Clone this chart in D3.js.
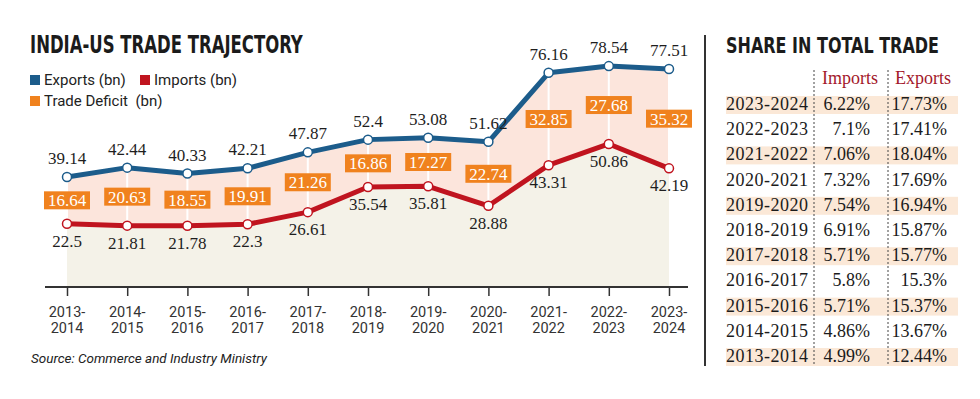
<!DOCTYPE html>
<html>
<head>
<meta charset="utf-8">
<script src="https://cdn.jsdelivr.net/npm/d3@7"></script>
<style>
  body { margin: 0; background: #fff; }
  .num { font-family: "Liberation Serif", serif; font-size: 17px; fill: #1e1e1e; }
  .tick-label { font-family: Roboto, sans-serif; font-size: 14.5px; fill: #333; }
  .legend { font-family: Roboto, sans-serif; font-size: 15px; fill: #222; }
  .title { font-family: "DejaVu Sans Condensed", "DejaVu Sans", sans-serif; font-weight: bold; fill: #1b1b1b; }
  .cell { font-family: "Liberation Serif", serif; font-size: 18px; fill: #1b1b1b; }
</style>
</head>
<body>
<div id="chart"></div>
<script>
// chart data
const years = ["2013-2014", "2014-2015", "2015-2016", "2016-2017", "2017-2018", "2018-2019",
  "2019-2020", "2020-2021", "2021-2022", "2022-2023", "2023-2024"];
const exportsBn = [39.14, 42.44, 40.33, 42.21, 47.87, 52.4, 53.08, 51.62, 76.16, 78.54, 77.51];
const importsBn = [22.5, 21.81, 21.78, 22.3, 26.61, 35.54, 35.81, 28.88, 43.31, 50.86, 42.19];
const deficitBn = [16.64, 20.63, 18.55, 19.91, 21.26, 16.86, 17.27, 22.74, 32.85, 27.68, 35.32];

// table data
const shareYears = ["2023-2024", "2022-2023", "2021-2022", "2020-2021", "2019-2020", "2018-2019",
  "2017-2018", "2016-2017", "2015-2016", "2014-2015", "2013-2014"];
const importShare = ["6.22%", "7.1%", "7.06%", "7.32%", "7.54%", "6.91%", "5.71%", "5.8%", "5.71%", "4.86%", "4.99%"];
const exportShare = ["17.73%", "17.41%", "18.04%", "17.69%", "16.94%", "15.87%", "15.77%", "15.3%", "15.37%", "13.67%", "12.44%"];

const blue = "#1c5c8b", red = "#c0141f", orange = "#f0821e";

const width = 980, height = 399;
const svg = d3.select("#chart").append("svg")
  .attr("width", width)
  .attr("height", height);

svg.append("rect").attr("width", width).attr("height", height).attr("fill", "#fff");

const x = d3.scalePoint().domain(years).range([67, 669]);
const y = d3.scaleLinear().domain([0, 80]).range([287, 62]);

const rows = years.map((yr, i) => ({ yr, ex: exportsBn[i], im: importsBn[i], def: deficitBn[i] }));

// background areas
svg.append("path")
  .datum(rows)
  .attr("fill", "#f4f2e8")
  .attr("d", d3.area().x(d => x(d.yr)).y0(y(0)).y1(d => y(d.im)));

svg.append("path")
  .datum(rows)
  .attr("fill", "#fce5dc")
  .attr("d", d3.area().x(d => x(d.yr)).y0(d => y(d.im)).y1(d => y(d.ex)));

// white guides between the two lines
svg.selectAll(".guide")
  .data(rows)
  .enter()
  .append("line")
  .attr("x1", d => x(d.yr)).attr("x2", d => x(d.yr))
  .attr("y1", d => y(d.ex)).attr("y2", d => y(d.im))
  .attr("stroke", "#fff")
  .attr("stroke-width", 2);

// x axis
const xAxis = svg.append("g")
  .attr("transform", `translate(0, ${y(0)})`)
  .call(d3.axisBottom(x).tickSize(9).tickFormat(""));
xAxis.select(".domain").remove();
xAxis.selectAll(".tick line").attr("stroke", "#333").attr("stroke-width", 1.5);
xAxis.append("line")
  .attr("x1", 45).attr("x2", 688)
  .attr("stroke", "#333").attr("stroke-width", 2);

const tl = svg.selectAll(".tick-label")
  .data(years)
  .enter()
  .append("text")
  .attr("class", "tick-label")
  .attr("text-anchor", "middle");
tl.append("tspan").attr("x", d => x(d)).attr("y", 317).text(d => d.split("-")[0] + "-");
tl.append("tspan").attr("x", d => x(d)).attr("y", 333).text(d => d.split("-")[1]);

// lines
const drawLine = (key, color) => {
  svg.append("path")
    .datum(rows)
    .attr("fill", "none")
    .attr("stroke", color)
    .attr("stroke-width", 5)
    .attr("stroke-linejoin", "round")
    .attr("d", d3.line().x(d => x(d.yr)).y(d => y(d[key])));
  svg.selectAll(".pt-" + key)
    .data(rows)
    .enter()
    .append("circle")
    .attr("cx", d => x(d.yr))
    .attr("cy", d => y(d[key]))
    .attr("r", 4.5)
    .attr("fill", "#fff")
    .attr("stroke", color)
    .attr("stroke-width", 1.5);
};
drawLine("ex", blue);
drawLine("im", red);

// value labels
svg.selectAll(".ex-label")
  .data(rows)
  .enter()
  .append("text")
  .attr("class", "num")
  .attr("text-anchor", "middle")
  .attr("x", d => x(d.yr))
  .attr("y", d => y(d.ex) - 13)
  .text(d => d.ex);

svg.selectAll(".im-label")
  .data(rows)
  .enter()
  .append("text")
  .attr("class", "num")
  .attr("text-anchor", "middle")
  .attr("x", d => x(d.yr))
  .attr("y", d => y(d.im) + 23)
  .text(d => d.im);

// deficit boxes
const box = svg.selectAll(".def")
  .data(rows)
  .enter()
  .append("g")
  .attr("transform", d => `translate(${x(d.yr)}, ${(y(d.ex) + y(d.im)) / 2})`);
box.append("rect")
  .attr("x", -23).attr("y", -9)
  .attr("width", 46).attr("height", 18)
  .attr("fill", orange);
box.append("text")
  .attr("class", "num")
  .attr("text-anchor", "middle")
  .attr("y", 6)
  .style("fill", "#fff")
  .text(d => d.def);

// condensed title: draw normally, then squeeze horizontally to the wanted width
function title(tx, ty, size, w, label) {
  const t = svg.append("text")
    .attr("class", "title")
    .attr("font-size", size)
    .text(label);
  const nat = t.node().getComputedTextLength();
  t.attr("transform", `translate(${tx}, ${ty}) scale(${w / nat}, 1)`);
}
title(30, 53, 25, 273, "INDIA-US TRADE TRAJECTORY");

const legendItems = [
  { label: "Exports (bn)", color: blue, lx: 30, ly: 85 },
  { label: "Imports (bn)", color: red, lx: 140, ly: 85 },
  { label: "Trade Deficit  (bn)", color: orange, lx: 30, ly: 106 }
];
legendItems.forEach(it => {
  svg.append("rect")
    .attr("x", it.lx).attr("y", it.ly - 10)
    .attr("width", 10).attr("height", 10)
    .attr("fill", it.color);
  svg.append("text")
    .attr("class", "legend")
    .attr("x", it.lx + 14).attr("y", it.ly)
    .attr("xml:space", "preserve")
    .text(it.label);
});

svg.append("text")
  .attr("x", 31).attr("y", 363)
  .attr("font-family", "Roboto, sans-serif")
  .attr("font-style", "italic")
  .attr("font-size", 13)
  .attr("fill", "#222")
  .attr("textLength", 236)
  .attr("lengthAdjust", "spacingAndGlyphs")
  .text("Source: Commerce and Industry Ministry");

// share table
svg.append("line")
  .attr("x1", 705).attr("x2", 705)
  .attr("y1", 35).attr("y2", 366)
  .attr("stroke", "#333").attr("stroke-width", 2);

title(726, 53, 22, 213, "SHARE IN TOTAL TRADE");

const rowY = d3.scalePoint().domain(shareYears).range([110, 362]);

svg.selectAll(".band")
  .data(shareYears.filter((d, i) => i % 2 === 0))
  .enter()
  .append("rect")
  .attr("x", 726).attr("width", 232)
  .attr("y", d => rowY(d) - 14).attr("height", 18)
  .attr("fill", "#fbe8d7");

[814, 888].forEach(cx => {
  svg.append("line")
    .attr("x1", cx).attr("x2", cx)
    .attr("y1", 70).attr("y2", 366)
    .attr("stroke", "#444")
    .attr("stroke-width", 1)
    .attr("stroke-dasharray", "2,2");
});

svg.append("text").attr("class", "cell").attr("x", 822).attr("y", 84)
  .style("fill", "#a3182a").text("Imports");
svg.append("text").attr("class", "cell").attr("x", 895).attr("y", 84)
  .style("fill", "#a3182a").text("Exports");

shareYears.forEach((yr, i) => {
  svg.append("text").attr("class", "cell")
    .attr("x", 726).attr("y", rowY(yr))
    .style("letter-spacing", "0.5px")
    .text(yr);
  svg.append("text").attr("class", "cell")
    .attr("x", 870).attr("y", rowY(yr))
    .attr("text-anchor", "end")
    .text(importShare[i]);
  svg.append("text").attr("class", "cell")
    .attr("x", 947).attr("y", rowY(yr))
    .attr("text-anchor", "end")
    .text(exportShare[i]);
});
</script>
</body>
</html>
